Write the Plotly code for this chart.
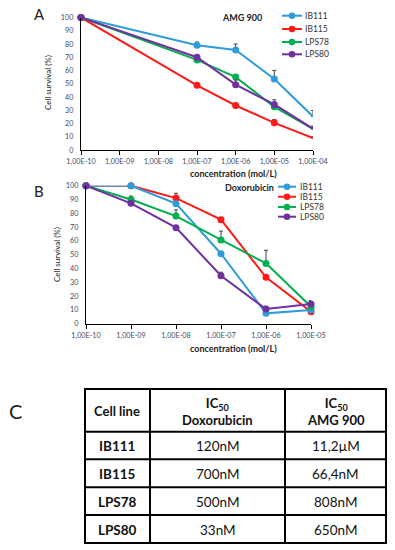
import plotly.graph_objects as go

W, H = 395, 550
FONT = "Lato"

# ---------------- DATA ----------------
series_names = ["IB111", "IB115", "LPS78", "LPS80"]
series_colors = ["#2E9BDB", "#FF1A1A", "#00B050", "#7030A0"]

# Panel A: AMG 900
conc_a = [1e-10, 1e-7, 1e-6, 1e-5, 1e-4]
amg_ib111 = [100, 79, 75.5, 53.6, 25.3]
amg_ib115 = [100, 48.8, 33.6, 20.5, 9]
amg_lps78 = [100, 68, 55, 32.6, 16]
amg_lps80 = [100, 70, 49.3, 34.4, 16]
amg_err_ib111 = [0, 2.5, 4.5, 6.5, 4.5]
amg_err_ib115 = [0, 1.5, 1.5, 2.5, 1.0]
amg_err_lps78 = [0, 1.5, 2, 1.5, 1.5]
amg_err_lps80 = [0, 2, 3.5, 3.5, 2]
ticks_a = [1e-10, 1e-9, 1e-8, 1e-7, 1e-6, 1e-5, 1e-4]
ticktext_a = ["1,00E-10", "1,00E-09", "1,00E-08", "1,00E-07", "1,00E-06", "1,00E-05", "1,00E-04"]

# Panel B: Doxorubicin
conc_b = [1e-10, 1e-9, 1e-8, 1e-7, 1e-6, 1e-5]
dox_ib111 = [100, 100, 87, 50.7, 7.5, 10]
dox_ib115 = [100, 100, 91, 75.4, 33.6, 8.7]
dox_lps78 = [100, 90, 78, 60.6, 43.7, 12.3]
dox_lps80 = [100, 87.2, 69.6, 34.8, 10.6, 14.3]
dox_err_ib111 = [0, 0, 1.5, 1, 1, 1]
dox_err_ib115 = [0, 0, 3.5, 1, 2, 1]
dox_err_lps78 = [0, 2.5, 4.5, 6.5, 9.5, 2]
dox_err_lps80 = [0, 1, 1, 2.5, 2, 2.5]
ticks_b = [1e-10, 1e-9, 1e-8, 1e-7, 1e-6, 1e-5]
ticktext_b = ["1,00E-10", "1,00E-09", "1,00E-08", "1,00E-07", "1,00E-06", "1,00E-05"]

yticks = [0, 10, 20, 30, 40, 50, 60, 70, 80, 90, 100]

# Panel C: table
table_header = ["Cell line", "IC<sub>50</sub><br>Doxorubicin", "IC<sub>50</sub><br>AMG 900"]
table_lines = ["IB111", "IB115", "LPS78", "LPS80"]
table_dox = ["120nM", "700nM", "500nM", "33nM"]
table_amg = ["11,2µM", "66,4nM", "808nM", "650nM"]

# ---------------- HELPERS ----------------
def px(x):
    return x / W

def py(y):
    return 1 - y / H

fig = go.Figure()

a_vals = [amg_ib111, amg_ib115, amg_lps78, amg_lps80]
a_errs = [amg_err_ib111, amg_err_ib115, amg_err_lps78, amg_err_lps80]
b_vals = [dox_ib111, dox_ib115, dox_lps78, dox_lps80]
b_errs = [dox_err_ib111, dox_err_ib115, dox_err_lps78, dox_err_lps80]

for name, col, v, e in zip(series_names, series_colors, a_vals, a_errs):
    fig.add_trace(go.Scatter(
        x=conc_a, y=v, name=name, mode="lines+markers",
        line=dict(color=col, width=2), marker=dict(color=col, size=7),
        error_y=dict(type="data", array=e, arrayminus=[0] * len(e), symmetric=False,
                     color="#444444", thickness=1, width=2),
        xaxis="x", yaxis="y", cliponaxis=False, showlegend=False))

# drawing order in panel B: IB115 below IB111 (blue marker on top at 1E-09)
for i in [1, 0, 2, 3]:
    name, col, v, e = series_names[i], series_colors[i], b_vals[i], b_errs[i]
    fig.add_trace(go.Scatter(
        x=conc_b, y=v, name=name, mode="lines+markers",
        line=dict(color=col, width=2), marker=dict(color=col, size=7),
        error_y=dict(type="data", array=e, arrayminus=[0] * len(e), symmetric=False,
                     color="#444444", thickness=1, width=2),
        xaxis="x2", yaxis="y2", cliponaxis=False, showlegend=False))

tickfont = dict(family=FONT, size=7.2, color="#3C4A66")
common_x = dict(type="log", showline=True, linecolor="black", linewidth=1.2,
                ticks="outside", ticklen=4, tickcolor="black", tickwidth=1,
                showgrid=False, zeroline=False, tickfont=tickfont, fixedrange=True,
                automargin=False)
common_y = dict(range=[0, 100], showline=True, linecolor="black", linewidth=1.2,
                ticks="", showgrid=False, zeroline=False, tickvals=yticks,
                tickfont=tickfont, ticklabelstandoff=5, fixedrange=True,
                automargin=False)

fig.update_layout(
    width=W, height=H, margin=dict(l=0, r=0, t=0, b=0, autoexpand=False),
    paper_bgcolor="white", plot_bgcolor="white", showlegend=False,
    font=dict(family=FONT), hovermode=False,
    xaxis=dict(common_x, domain=[px(81), px(313)], range=[-10, -4],
               tickvals=ticks_a, ticktext=ticktext_a, anchor="y"),
    yaxis=dict(common_y, domain=[py(150), py(17.5)], anchor="x"),
    xaxis2=dict(common_x, domain=[px(86), px(311)], range=[-10, -5],
                tickvals=ticks_b, ticktext=ticktext_b, anchor="y2"),
    yaxis2=dict(common_y, domain=[py(323.7), py(185.7)], anchor="x2"),
)

ann = []
shapes = []
# panel letters
ann.append(dict(x=px(39), y=py(14), text="A", font=dict(size=15, color="#222")))
ann.append(dict(x=px(39), y=py(191), text="B", font=dict(size=15, color="#222")))
ann.append(dict(x=px(15), y=py(411), text="C", font=dict(size=20, color="#222")))
# drug titles
ann.append(dict(x=px(242), y=py(18), text="<b>AMG 900</b>", font=dict(size=9, color="#222")))
ann.append(dict(x=px(249), y=py(187), text="<b>Doxorubicin</b>", font=dict(size=9, color="#222")))
# axis titles
ann.append(dict(x=px(233), y=py(173), text="<b>concentration (mol/L)</b>", font=dict(size=9, color="#222")))
ann.append(dict(x=px(233), y=py(348), text="<b>concentration (mol/L)</b>", font=dict(size=9, color="#222")))
ann.append(dict(x=px(48), y=py(83), text="Cell survival (%)", textangle=-90, font=dict(size=8, color="#222")))
ann.append(dict(x=px(57), y=py(255), text="Cell survival (%)", textangle=-90, font=dict(size=8, color="#222")))

# manual legends
legends = [
    dict(x0=282, x1=302, tx=303, rows=[15.7, 29, 42, 54.3]),
    dict(x0=278, x1=296, tx=298, rows=[186.7, 196.7, 207, 216.7]),
]
for lg in legends:
    for name, col, ry in zip(series_names, series_colors, lg["rows"]):
        shapes.append(dict(type="line", xref="paper", yref="paper",
                           x0=px(lg["x0"]), x1=px(lg["x1"]), y0=py(ry), y1=py(ry),
                           line=dict(color=col, width=2)))
        cx = (lg["x0"] + lg["x1"]) / 2
        shapes.append(dict(type="circle", xref="paper", yref="paper",
                           x0=px(cx - 3.3), x1=px(cx + 3.3), y0=py(ry + 3.3), y1=py(ry - 3.3),
                           fillcolor=col, line=dict(color=col, width=0)))
        ann.append(dict(x=px(lg["tx"]), y=py(ry), text=name, xanchor="left",
                        font=dict(size=8.5, color="#333")))

# table (panel C)
col_edges = [85, 150, 285, 386]
row_edges = [389, 431.7, 459.3, 487.3, 515, 543]
for xe in col_edges:
    shapes.append(dict(type="line", xref="paper", yref="paper",
                       x0=px(xe), x1=px(xe), y0=py(row_edges[0]), y1=py(row_edges[-1]),
                       line=dict(color="black", width=2)))
for ye in row_edges:
    shapes.append(dict(type="line", xref="paper", yref="paper",
                       x0=px(col_edges[0] - 1), x1=px(col_edges[-1] + 1), y0=py(ye), y1=py(ye),
                       line=dict(color="black", width=2)))
col_centers = [(col_edges[i] + col_edges[i + 1]) / 2 for i in range(3)]
header_cy = (row_edges[0] + row_edges[1]) / 2 + 1
for cx, h in zip(col_centers, table_header):
    ann.append(dict(x=px(cx), y=py(header_cy), text="<b>%s</b>" % h,
                    font=dict(size=13, color="#111")))
columns = [["<b>%s</b>" % c for c in table_lines], table_dox, table_amg]
for ri in range(len(table_lines)):
    cy = (row_edges[ri + 1] + row_edges[ri + 2]) / 2 + 0.5
    for cx, colvals in zip(col_centers, columns):
        ann.append(dict(x=px(cx), y=py(cy), text=colvals[ri],
                        font=dict(size=13.5, color="#111")))

for a in ann:
    a.setdefault("xref", "paper")
    a.setdefault("yref", "paper")
    a.setdefault("showarrow", False)
    a.setdefault("xanchor", "center")
    a.setdefault("yanchor", "middle")
    a["font"].setdefault("family", FONT)

fig.update_layout(annotations=ann, shapes=shapes)
fig.write_html(
    "out.html",
    config={"displayModeBar": False, "staticPlot": True},
    post_script="document.body.style.margin='0';document.body.style.overflow='hidden';",
)
